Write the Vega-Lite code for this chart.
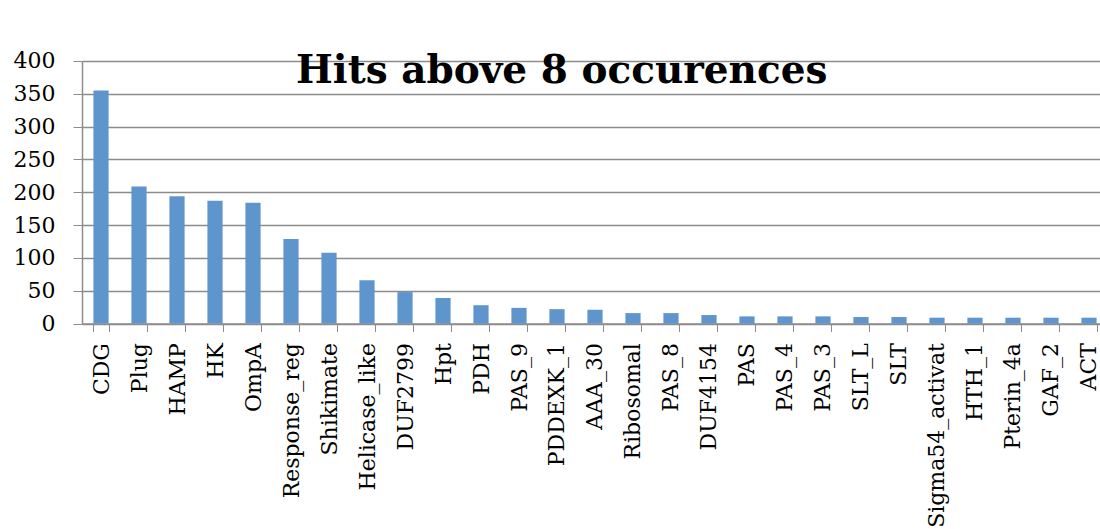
{
  "$schema": "https://vega.github.io/schema/vega-lite/v6.json",
  "autosize": "none",
  "width": 1018,
  "height": 262.6,
  "padding": {"left": 82, "top": 61, "right": 0, "bottom": 205},
  "background": "white",
  "title": {
    "text": "Hits above 8 occurences",
    "anchor": "start",
    "frame": "group",
    "font": "DejaVu Serif",
    "fontSize": 39,
    "fontWeight": "bold",
    "color": "black",
    "baseline": "alphabetic",
    "offset": 0,
    "dx": 214,
    "dy": 72
  },
  "data": {
    "values": [
      {"domain": "CDG", "hits": 355},
      {"domain": "Plug", "hits": 209},
      {"domain": "HAMP", "hits": 194},
      {"domain": "HK", "hits": 187},
      {"domain": "OmpA", "hits": 184},
      {"domain": "Response_reg", "hits": 129},
      {"domain": "Shikimate", "hits": 108},
      {"domain": "Helicase_like", "hits": 66},
      {"domain": "DUF2799", "hits": 48},
      {"domain": "Hpt", "hits": 39},
      {"domain": "PDH", "hits": 28},
      {"domain": "PAS_9", "hits": 24},
      {"domain": "PDDEXK_1", "hits": 22},
      {"domain": "AAA_30", "hits": 21},
      {"domain": "Ribosomal", "hits": 16},
      {"domain": "PAS_8", "hits": 16},
      {"domain": "DUF4154", "hits": 13},
      {"domain": "PAS", "hits": 11},
      {"domain": "PAS_4", "hits": 11},
      {"domain": "PAS_3", "hits": 11},
      {"domain": "SLT_L", "hits": 10},
      {"domain": "SLT", "hits": 10},
      {"domain": "Sigma54_activat", "hits": 9},
      {"domain": "HTH_1", "hits": 9},
      {"domain": "Pterin_4a", "hits": 9},
      {"domain": "GAF_2", "hits": 9},
      {"domain": "ACT", "hits": 9}
    ]
  },
  "mark": {"type": "bar", "color": "#5E95CD"},
  "encoding": {
    "x": {
      "field": "domain",
      "type": "nominal",
      "sort": null,
      "scale": {"range": [0, 1026], "paddingInner": 0.6, "paddingOuter": 0.3},
      "axis": {
        "title": null,
        "labelAngle": -90,
        "labelFont": "DejaVu Serif",
        "labelFontSize": 22,
        "labelColor": "black",
        "labelPadding": 11,
        "labelOverlap": false,
        "labelLimit": 0,
        "tickBand": "extent",
        "tickSize": 8,
        "tickColor": "#8c8c8c",
        "domainColor": "#8c8c8c",
        "domainWidth": 1.5,
        "grid": false
      }
    },
    "y": {
      "field": "hits",
      "type": "quantitative",
      "scale": {"domain": [0, 400], "nice": false},
      "axis": {
        "title": null,
        "values": [0, 50, 100, 150, 200, 250, 300, 350, 400],
        "labelFont": "DejaVu Serif",
        "labelFontSize": 22,
        "labelColor": "black",
        "labelPadding": 18,
        "tickSize": 9,
        "tickColor": "#8c8c8c",
        "domainColor": "#8c8c8c",
        "domainWidth": 1.5,
        "gridColor": "#8c8c8c",
        "gridWidth": 1.5
      }
    }
  },
  "config": {"view": {"stroke": null}}
}
